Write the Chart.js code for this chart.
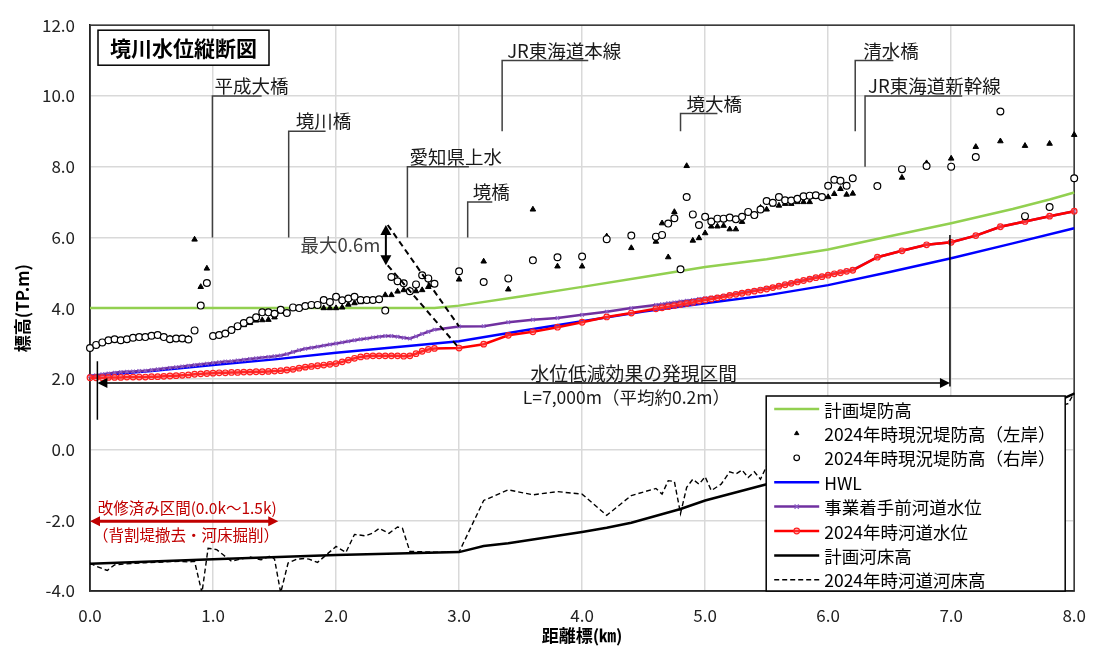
<!DOCTYPE html>
<html>
<head>
<meta charset="utf-8">
<script src="https://cdn.jsdelivr.net/npm/chart.js@4.4.1/dist/chart.umd.min.js"></script>
<style>
  html, body { margin: 0; padding: 0; background: #fff; }
  #wrap { width: 1100px; height: 650px; }
</style>
</head>
<body>
<div id="wrap"><canvas id="profile" width="1100" height="650"></canvas></div>
<script>
// 測点（距離標 km）
const stationKm = [
  0.00, 0.05, 0.10, 0.15, 0.20, 0.25, 0.30, 0.35, 0.40, 0.45,
  0.50, 0.55, 0.60, 0.65, 0.70, 0.75, 0.80, 0.85, 0.90, 0.95,
  1.00, 1.05, 1.10, 1.15, 1.20, 1.25, 1.30, 1.35, 1.40, 1.45,
  1.50, 1.55, 1.60, 1.65, 1.70, 1.75, 1.80, 1.85, 1.90, 1.95,
  2.00, 2.05, 2.10, 2.15, 2.20, 2.25, 2.30, 2.35, 2.40, 2.45,
  2.50, 2.55, 2.60, 2.65, 2.70, 2.75, 2.80,
  3.0, 3.2, 3.4, 3.6, 3.8, 4.0, 4.2, 4.4,
  4.60, 4.65, 4.70, 4.75, 4.80, 4.85, 4.90, 4.95,
  5.00, 5.05, 5.10, 5.15, 5.20, 5.25, 5.30, 5.35, 5.40, 5.45,
  5.50, 5.55, 5.60, 5.65, 5.70, 5.75, 5.80, 5.85, 5.90, 5.95,
  6.00, 6.05, 6.10, 6.15, 6.20,
  6.4, 6.6, 6.8, 7.0, 7.2, 7.4, 7.6, 7.8, 8.0
];

// 2024年時現況堤防高（左岸）
const leftBank = [
  null, null, null, null, null, null, null, null, null, null,
  null, null, null, 3.15, 3.13, 3.14, 3.14, 5.94, 4.60, 5.12,
  3.20, 3.24, 3.28, 3.36, 3.45, 3.52, 3.58, 3.65, 3.66, 3.67,
  3.74, 3.90, 3.86, 4.00, 3.99, 4.04, 4.07, 4.06, 4.00, 4.00,
  4.00, 4.02, 4.10, 4.14, 4.17, 4.20, 4.22, 4.25, 4.37, 4.37,
  4.47, 4.51, 4.51, 4.48, 4.51, 4.60, 4.70,
  4.81, 5.32, 4.53, 6.79, 5.18, 5.18, 6.03, 5.70,
  5.88, 6.40, 5.44, 6.72, 5.08, 8.02, 5.91, 5.98,
  6.12, 6.31, 6.31, 6.33, 6.23, 6.23, 6.44, 6.70, 6.60, 6.84,
  6.79, 6.93, 6.90, 6.95, 6.95, 7.00, 7.00, 7.00, 7.15, 7.14,
  7.14, 7.23, 7.37, 7.21, 7.24,
  7.45, 7.69, 8.10, 8.23, 8.56, 8.72, 8.59, 8.65, 8.90
];

// 2024年時現況堤防高（右岸）
const rightBank = [
  2.87, 2.96, 3.03, 3.09, 3.12, 3.09, 3.12, 3.16, 3.18, 3.18,
  3.22, 3.24, 3.18, 3.12, 3.14, 3.14, 3.11, 3.37, 4.07, 4.71,
  3.21, 3.24, 3.28, 3.38, 3.49, 3.58, 3.65, 3.74, 3.88, 3.88,
  3.84, 3.95, 3.86, 4.02, 4.00, 4.06, 4.09, 4.09, 4.23, 4.17,
  4.32, 4.22, 4.27, 4.32, 4.23, 4.23, 4.23, 4.25, 3.93, 4.88,
  4.76, 4.70, 4.48, 4.67, 4.93, 4.84, 4.69,
  5.04, 4.74, 4.84, 5.35, 5.44, 5.46, 5.95, 6.05,
  6.02, 6.07, 6.39, 6.54, 5.10, 7.14, 6.65, 6.35,
  6.58, 6.45, 6.53, 6.53, 6.56, 6.51, 6.58, 6.72, 6.63, 6.79,
  7.03, 6.98, 7.14, 7.05, 7.04, 7.09, 7.16, 7.18, 7.19, 7.14,
  7.46, 7.63, 7.60, 7.46, 7.67,
  7.45, 7.93, 8.02, 8.00, 8.27, 9.56, 6.60, 6.86, 7.67
];

// 事業着手前河道水位
const waterBefore = [
  2.08, 2.10, 2.13, 2.15, 2.17, 2.19, 2.20, 2.21, 2.22, 2.23,
  2.25, 2.27, 2.29, 2.31, 2.33, 2.35, 2.37, 2.39, 2.41, 2.43,
  2.45, 2.47, 2.49, 2.50, 2.52, 2.54, 2.56, 2.58, 2.60, 2.62,
  2.64, 2.66, 2.70, 2.76, 2.81, 2.85, 2.88, 2.91, 2.94, 2.97,
  3.00, 3.03, 3.06, 3.09, 3.12, 3.14, 3.17, 3.19, 3.21, 3.21,
  3.19, 3.16, 3.14, 3.20, 3.27, 3.33, 3.39,
  3.48, 3.49, 3.60, 3.67, 3.72, 3.81, 3.90, 4.00,
  4.09, 4.11, 4.14, 4.16, 4.19, 4.21, 4.23, 4.26,
  4.28, 4.30, 4.32, 4.35, 4.38, 4.41, 4.44, 4.47, 4.50, 4.53,
  4.56, 4.59, 4.63, 4.67, 4.71, 4.75, 4.79, 4.83, 4.87, 4.90,
  4.94, 4.98, 5.01, 5.05, 5.08,
  5.44, 5.62, 5.79, 5.86, 6.05, 6.30, 6.45, 6.60, 6.74
];

// 2024年時河道水位
const water2024 = [
  2.03, 2.03, 2.03, 2.04, 2.04, 2.04, 2.05, 2.05, 2.05, 2.05,
  2.06, 2.06, 2.07, 2.08, 2.09, 2.10, 2.11, 2.13, 2.14, 2.15,
  2.16, 2.17, 2.17, 2.18, 2.18, 2.19, 2.19, 2.20, 2.20, 2.21,
  2.22, 2.23, 2.25, 2.27, 2.30, 2.33, 2.35, 2.37, 2.39, 2.41,
  2.43, 2.48, 2.53, 2.58, 2.62, 2.64, 2.65, 2.65, 2.65, 2.65,
  2.65, 2.64, 2.65, 2.71, 2.78, 2.83, 2.86,
  2.87, 2.98, 3.23, 3.33, 3.46, 3.60, 3.75, 3.86,
  3.98, 4.01, 4.04, 4.07, 4.10, 4.13, 4.16, 4.20,
  4.23, 4.26, 4.29, 4.32, 4.36, 4.39, 4.42, 4.45, 4.48, 4.51,
  4.54, 4.58, 4.62, 4.66, 4.70, 4.74, 4.78, 4.82, 4.86, 4.89,
  4.93, 4.97, 5.00, 5.04, 5.07,
  5.44, 5.62, 5.79, 5.86, 6.05, 6.30, 6.45, 6.60, 6.74
];

// 計画堤防高
const leveeKm = [0.0, 1.0, 2.0, 2.8, 3.0, 3.5, 4.0, 4.5, 5.0, 5.5, 6.0, 6.5, 7.0, 7.5, 7.8, 8.0];
const leveePlan = [4.00, 4.00, 4.00, 4.00, 4.07, 4.33, 4.60, 4.88, 5.16, 5.38, 5.66, 6.03, 6.40, 6.80, 7.07, 7.27];

// HWL
const hwlKm = [0.0, 0.5, 1.0, 1.5, 2.0, 2.5, 3.0, 3.5, 4.0, 4.5, 5.0, 5.5, 6.0, 6.5, 7.0, 7.5, 8.0];
const hwl = [2.08, 2.22, 2.39, 2.55, 2.74, 2.90, 3.06, 3.35, 3.63, 3.90, 4.14, 4.36, 4.65, 5.02, 5.41, 5.83, 6.26];

// 計画河床高
const bedPlanKm = [0.0, 1.0, 2.0, 3.0, 3.2, 3.4, 4.0, 4.2, 4.4, 4.8, 5.0, 5.5, 6.0, 6.5, 7.0, 7.5, 7.85, 8.0];
const bedPlan = [-3.23, -3.10, -2.98, -2.90, -2.73, -2.65, -2.33, -2.21, -2.07, -1.68, -1.44, -0.98, -0.52, -0.06, 0.40, 0.90, 1.35, 1.58];

// 2024年時河道河床高
const bed2024Km = [
  0.00, 0.05, 0.14, 0.20, 0.27, 0.35, 0.45, 0.55, 0.65, 0.73, 0.80, 0.85, 0.91, 0.96,
  1.03, 1.08, 1.15, 1.22, 1.30, 1.39, 1.47, 1.50, 1.55, 1.61, 1.68, 1.74, 1.78, 1.85, 1.92,
  2.00, 2.08, 2.15, 2.24, 2.30, 2.35, 2.43, 2.50, 2.54, 2.60, 2.80, 3.00,
  3.2, 3.4, 3.6, 3.8, 4.0, 4.2, 4.4, 4.6, 4.65, 4.70, 4.75, 4.80, 4.85, 4.90, 4.95,
  5.00, 5.05, 5.13, 5.20, 5.25, 5.30, 5.35, 5.40, 5.45, 5.50,
  5.60, 5.70, 5.80, 5.90, 6.00, 6.20, 6.40, 6.60, 6.80, 7.00, 7.20, 7.40, 7.60, 7.80, 7.95, 8.00
];
const bed2024 = [
  -3.21, -3.30, -3.42, -3.26, -3.24, -3.22, -3.20, -3.19, -3.17, -3.16, -3.18, -3.16, -4.05, -2.79,
  -2.83, -2.97, -3.16, -3.10, -3.04, -3.12, -3.00, -3.10, -4.05, -3.21, -3.10, -3.08, -3.10, -3.19, -2.98,
  -2.74, -2.91, -2.40, -2.44, -2.36, -2.23, -2.37, -2.19, -2.23, -2.88, -2.90, -2.90,
  -1.44, -1.14, -1.28, -1.19, -1.26, -1.86, -1.30, -1.10, -1.26, -0.88, -0.90, -1.81, -1.07, -0.84, -0.98,
  -0.77, -1.16, -0.98, -0.63, -0.69, -0.58, -0.79, -0.63, -0.84, -0.47,
  -0.40, -0.30, -0.22, -0.15, -0.05, 0.10, 0.28, 0.40, 0.55, 0.68, 0.82, 0.94, 1.05, 1.15, 1.30, 1.60
];

// 橋梁・構造物の引出し線 [名称, km, 上端, 下端, 横線長(km), 文字オフセットpx]
const bridges = [
  ["平成大橋", 0.995, 10.0, 6.0, 0.40, 2],
  ["境川橋", 1.615, 9.0, 6.0, 0.30, 7],
  ["愛知県上水", 2.58, 8.0, 6.0, 0.50, 2],
  ["境橋", 3.07, 7.0, 6.0, 0.20, 5],
  ["JR東海道本線", 3.35, 11.0, 9.0, 0.70, 5],
  ["境大橋", 4.80, 9.5, 9.0, 0.30, 6],
  ["清水橋", 6.22, 11.0, 9.0, 0.31, 8],
  ["JR東海道新幹線", 6.30, 10.0, 8.0, 0.79, 3]
];

const FONT = "'Noto Sans CJK JP', 'Noto Sans', sans-serif";
Chart.defaults.font.family = FONT;
Chart.defaults.color = "#000";

const toXY = (xs, ys) => xs.map((x, i) => ({ x: x, y: ys[i] }));

function arrowHead(ctx, x, y, dx, dy, len, half) {
  ctx.beginPath();
  ctx.moveTo(x, y);
  ctx.lineTo(x - dx * len - dy * half, y - dy * len + dx * half);
  ctx.lineTo(x - dx * len + dy * half, y - dy * len - dx * half);
  ctx.closePath();
  ctx.fill();
}

const overlay = {
  id: "overlay",
  beforeDatasetsDraw(chart) {
    const { ctx, chartArea: a } = chart;
    ctx.save();
    ctx.strokeStyle = "#333";
    ctx.lineWidth = 1.5;
    ctx.strokeRect(a.left, a.top, a.right - a.left, a.bottom - a.top);
    ctx.restore();
  },
  afterDatasetsDraw(chart) {
    const { ctx, chartArea: a } = chart;
    const X = (v) => chart.scales.x.getPixelForValue(v);
    const Y = (v) => chart.scales.y.getPixelForValue(v);
    ctx.save();

    // タイトル枠
    ctx.fillStyle = "#fff";
    ctx.fillRect(a.left + 8, a.top + 5, 171, 35);
    ctx.strokeStyle = "#000";
    ctx.lineWidth = 1.5;
    ctx.strokeRect(a.left + 8, a.top + 5, 171, 35);
    ctx.fillStyle = "#000";
    ctx.font = "bold 21px " + FONT;
    ctx.textAlign = "center";
    ctx.textBaseline = "middle";
    ctx.fillText("境川水位縦断図", a.left + 8 + 85.5, a.top + 23);

    // 橋梁の引出し線
    ctx.strokeStyle = "#404040";
    ctx.lineWidth = 1.5;
    ctx.font = "18.5px " + FONT;
    ctx.textAlign = "left";
    ctx.fillStyle = "#1a1a1a";
    bridges.forEach(([name, km, top, bottom, len, dx]) => {
      ctx.beginPath();
      ctx.moveTo(X(km), Y(bottom));
      ctx.lineTo(X(km), Y(top));
      ctx.lineTo(X(km + len), Y(top));
      ctx.stroke();
      ctx.fillText(name, X(km) + dx, Y(top) - 10);
    });

    // 最大0.6m
    ctx.strokeStyle = "#000";
    ctx.fillStyle = "#000";
    ctx.setLineDash([6, 4]);
    ctx.lineWidth = 2;
    ctx.beginPath();
    ctx.moveTo(X(2.42), Y(6.35)); ctx.lineTo(X(3.0), Y(3.48));
    ctx.moveTo(X(2.42), Y(5.21)); ctx.lineTo(X(3.0), Y(2.87));
    ctx.stroke();
    ctx.setLineDash([]);
    ctx.beginPath();
    ctx.moveTo(X(2.405), Y(6.35) + 6); ctx.lineTo(X(2.405), Y(5.21) - 6);
    ctx.stroke();
    arrowHead(ctx, X(2.405), Y(6.35), 0, -1, 10, 5.5);
    arrowHead(ctx, X(2.405), Y(5.21), 0, 1, 10, 5.5);
    ctx.fillStyle = "#404040";
    ctx.font = "18.5px " + FONT;
    ctx.textAlign = "right";
    ctx.fillText("最大0.6m", X(2.36), Y(5.79));

    // 水位低減効果の発現区間
    ctx.strokeStyle = "#000";
    ctx.fillStyle = "#000";
    ctx.lineWidth = 1.5;
    ctx.beginPath();
    ctx.moveTo(X(0.06), Y(2.5)); ctx.lineTo(X(0.06), Y(0.84));
    ctx.moveTo(X(6.99), Y(6.07)); ctx.lineTo(X(6.99), Y(1.78));
    ctx.moveTo(X(0.06) + 6, Y(1.88)); ctx.lineTo(X(6.99) - 6, Y(1.88));
    ctx.stroke();
    arrowHead(ctx, X(0.06), Y(1.88), -1, 0, 10, 5);
    arrowHead(ctx, X(6.99), Y(1.88), 1, 0, 10, 5);
    ctx.font = "18.8px " + FONT;
    ctx.textAlign = "center";
    ctx.fillStyle = "#1a1a1a";
    ctx.fillText("水位低減効果の発現区間", X(4.42), Y(2.14));
    ctx.font = "17.5px " + FONT;
    ctx.fillText("L=7,000m（平均約0.2m）", X(4.36), Y(1.49));

    // 改修済み区間
    const red = "#c00000";
    ctx.strokeStyle = red;
    ctx.fillStyle = red;
    ctx.lineWidth = 3;
    ctx.beginPath();
    ctx.moveTo(X(0.0) + 6, Y(-2.03)); ctx.lineTo(X(1.53) - 6, Y(-2.03));
    ctx.stroke();
    arrowHead(ctx, X(0.0), Y(-2.03), -1, 0, 10, 5);
    arrowHead(ctx, X(1.53), Y(-2.03), 1, 0, 10, 5);
    ctx.font = "15.5px " + FONT;
    ctx.fillText("改修済み区間(0.0k～1.5k)", X(0.79), Y(-1.66));
    ctx.fillText("（背割堤撤去・河床掘削）", X(0.78), Y(-2.42));

    // 凡例
    const lw = 299, lh = 195;
    const lx = a.right - 308, ly = a.bottom - lh;
    ctx.fillStyle = "#fff";
    ctx.fillRect(lx, ly, lw, lh);
    ctx.strokeStyle = "#000";
    ctx.lineWidth = 1.5;
    ctx.strokeRect(lx, ly, lw, lh);
    ctx.font = "17.5px " + FONT;
    ctx.textAlign = "left";
    ctx.textBaseline = "middle";
    chart.data.datasets.forEach((ds, i) => {
      const y = ly + 13 + i * 24.4;
      if (ds.showLine) {
        ctx.strokeStyle = ds.borderColor;
        ctx.lineWidth = ds.borderWidth;
        ctx.setLineDash(ds.borderDash || []);
        ctx.beginPath();
        ctx.moveTo(lx + 8, y); ctx.lineTo(lx + 53, y);
        ctx.stroke();
        ctx.setLineDash([]);
      }
      if (ds.pointRadius > 0) {
        ctx.strokeStyle = ds.pointBorderColor;
        ctx.fillStyle = ds.pointBackgroundColor;
        ctx.lineWidth = ds.pointBorderWidth;
        Chart.helpers.drawPoint(ctx, {
          pointStyle: ds.pointStyle, radius: ds.legendRadius, rotation: 0, borderWidth: ds.pointBorderWidth
        }, lx + 30.5, y);
      }
      ctx.fillStyle = "#000";
      ctx.fillText(ds.label, lx + 58, y + 1);
    });
    ctx.restore();
  }
};

new Chart(document.getElementById("profile"), {
  type: "scatter",
  data: {
    datasets: [
      {
        label: "計画堤防高",
        data: toXY(leveeKm, leveePlan),
        showLine: true, borderColor: "#92d050", borderWidth: 2.5,
        pointRadius: 0, order: 5
      },
      {
        label: "2024年時現況堤防高（左岸）",
        data: toXY(stationKm, leftBank),
        showLine: false, pointStyle: "triangle", pointRadius: 3.2, legendRadius: 2.5,
        pointBackgroundColor: "#000", pointBorderColor: "#000", pointBorderWidth: 1,
        order: 1
      },
      {
        label: "2024年時現況堤防高（右岸）",
        data: toXY(stationKm, rightBank),
        showLine: false, pointStyle: "circle", pointRadius: 3.4, legendRadius: 2.8,
        pointBackgroundColor: "#fff", pointBorderColor: "#000", pointBorderWidth: 1.2,
        order: 0
      },
      {
        label: "HWL",
        data: toXY(hwlKm, hwl),
        showLine: true, borderColor: "#0000ff", borderWidth: 2.5,
        pointRadius: 0, order: 4
      },
      {
        label: "事業着手前河道水位",
        data: toXY(stationKm, waterBefore),
        showLine: true, borderColor: "#7030a0", borderWidth: 2.5,
        pointStyle: "crossRot", pointRadius: 2.5, legendRadius: 3,
        pointBorderColor: "#8b5cc4", pointBackgroundColor: "#8b5cc4", pointBorderWidth: 1.2,
        order: 3
      },
      {
        label: "2024年時河道水位",
        data: toXY(stationKm, water2024),
        showLine: true, borderColor: "#ff0000", borderWidth: 2.5,
        pointStyle: "circle", pointRadius: 2.8, legendRadius: 2.8,
        pointBorderColor: "#ff2020", pointBackgroundColor: "rgba(255,120,120,0.35)", pointBorderWidth: 1.2,
        order: 2
      },
      {
        label: "計画河床高",
        data: toXY(bedPlanKm, bedPlan),
        showLine: true, borderColor: "#000", borderWidth: 2.5,
        pointRadius: 0, order: 7
      },
      {
        label: "2024年時河道河床高",
        data: toXY(bed2024Km, bed2024),
        showLine: true, borderColor: "#000", borderWidth: 1.4, borderDash: [5, 3],
        pointRadius: 0, order: 6
      }
    ]
  },
  options: {
    responsive: false,
    animation: false,
    devicePixelRatio: 1,
    clip: { left: 8, right: 8, top: 0, bottom: 0 },
    layout: { padding: { left: 0, right: 24, top: 16, bottom: 0 } },
    plugins: {
      legend: { display: false },
      tooltip: { enabled: false }
    },
    scales: {
      x: {
        type: "linear", min: 0, max: 8,
        afterFit: (s) => { s.height = 59; },
        ticks: {
          stepSize: 1, padding: 14, maxRotation: 0,
          callback: (v) => v.toFixed(1),
          font: { size: 17 }, color: "#222"
        },
        grid: { color: "#d9d9d9", lineWidth: 1.5, drawTicks: false },
        border: { color: "#000", width: 1.5 },
        title: { display: true, text: "距離標(㎞)", font: { size: 17, weight: "bold" }, padding: 4, color: "#000" }
      },
      y: {
        min: -4, max: 12,
        afterFit: (s) => { s.width = 90; },
        ticks: {
          stepSize: 2, padding: 15,
          callback: (v) => v.toFixed(1),
          font: { size: 17 }, color: "#222"
        },
        grid: { color: "#d9d9d9", lineWidth: 1.5, drawTicks: false },
        border: { color: "#000", width: 1.5 },
        title: { display: true, text: "標高(TP.m)", font: { size: 17, weight: "bold" }, padding: 12, color: "#000" }
      }
    }
  },
  plugins: [overlay]
});
</script>
</body>
</html>
